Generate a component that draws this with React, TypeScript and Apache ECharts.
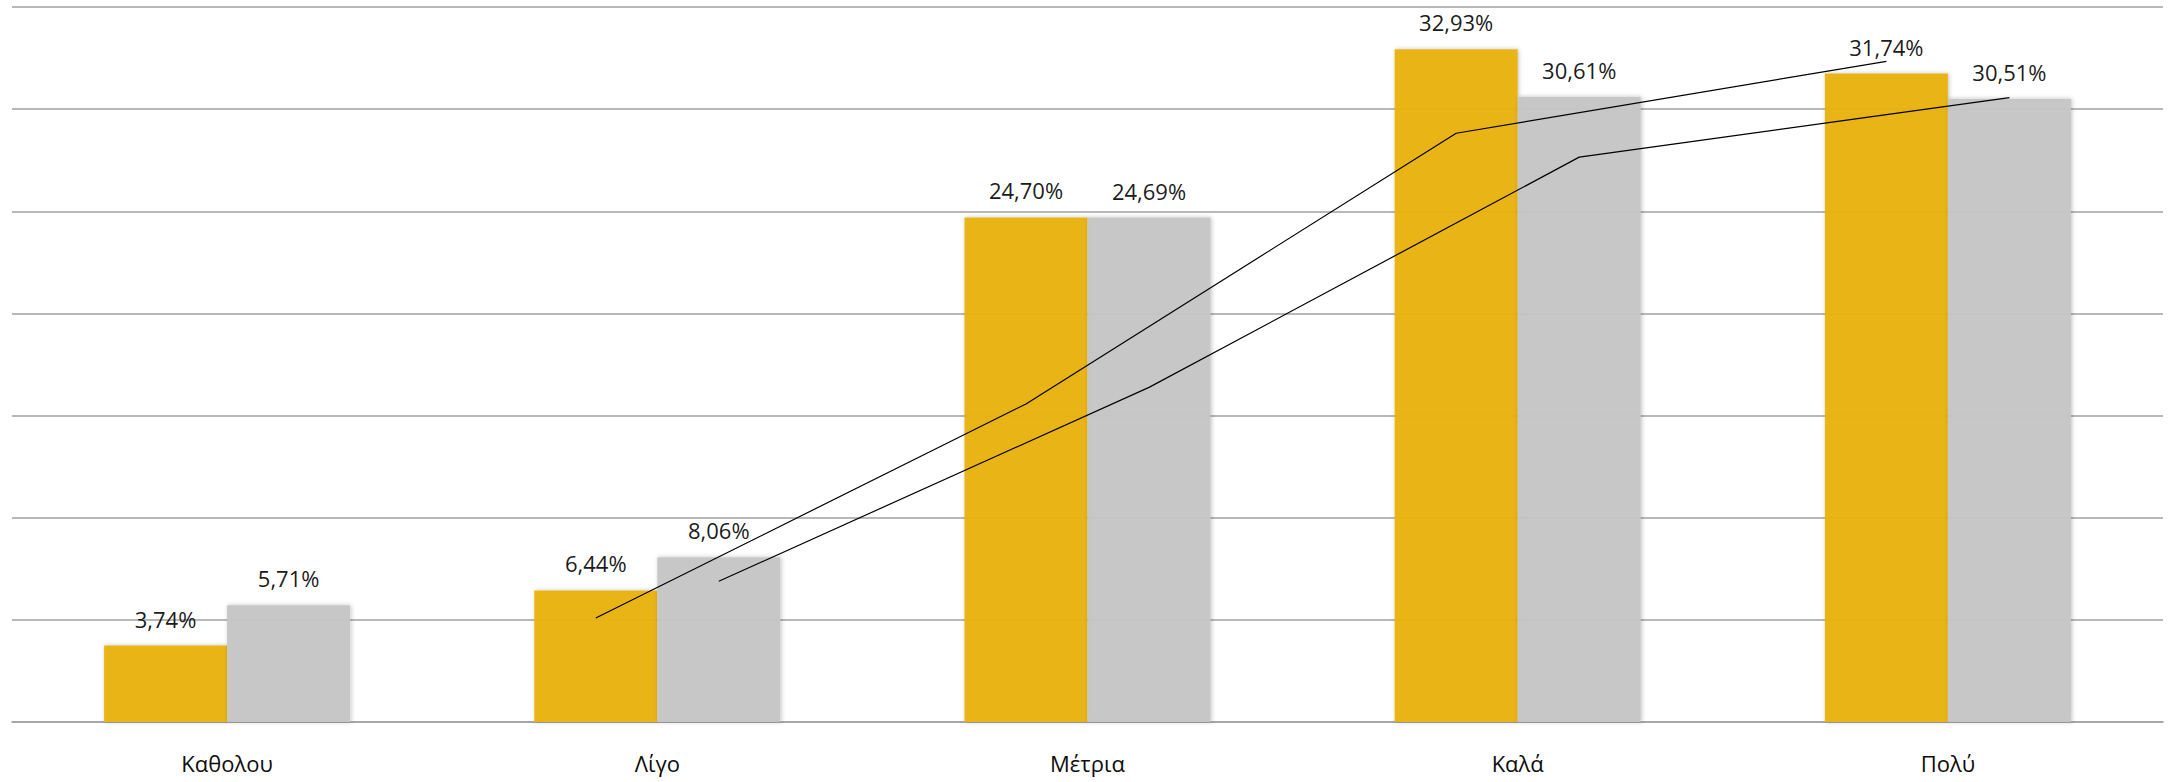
import React, { useEffect, useRef } from "react";
import * as echarts from "echarts";

const categories = ["Καθολου", "Λίγο", "Μέτρια", "Καλά", "Πολύ"];
const seriesA = [3.74, 6.44, 24.7, 32.93, 31.74];
const seriesB = [5.71, 8.06, 24.69, 30.61, 30.51];
// trend lines (2-period moving averages), starting at the 2nd category
const trendA = [5.09, 15.57, 28.82, 32.34];
const trendB = [6.89, 16.38, 27.65, 30.56];
const trendStartIndex = 1;

const BAR_FRAC = 0.286;
const FONT = "'Open Sans', 'Noto Sans', sans-serif";

const fmt = (v: number) => v.toFixed(2).replace(".", ",") + "%";

export default function App() {
  const ref = useRef<HTMLDivElement>(null);
  useEffect(() => {
    if (!ref.current) return;
    const chart = echarts.init(ref.current, undefined, { renderer: "svg" });
    const off = BAR_FRAC / 2;
    const lineA = trendA.map((v, i) => [trendStartIndex + i + 0.5 - off, v]);
    const lineB = trendB.map((v, i) => [trendStartIndex + i + 0.5 + off, v]);
    const label = {
      show: true,
      position: "top",
      distance: 16,
      fontFamily: FONT,
      fontSize: 22,
      color: "#0d0d0d",
      formatter: (p: any) => fmt(p.value),
    };
    chart.setOption({
      animation: false,
      grid: { left: 12, right: 12, top: 7, bottom: 60, containLabel: false },
      xAxis: [
        {
          type: "category",
          data: categories,
          axisTick: { show: false },
          axisLine: { show: true, lineStyle: { color: "#a0a0a0", width: 1.5 } },
          axisLabel: { fontFamily: FONT, fontSize: 22, color: "#0d0d0d", margin: 30 },
        },
        { type: "value", min: 0, max: 5, show: false },
      ],
      yAxis: {
        type: "value",
        min: 0,
        max: 35,
        interval: 5,
        axisLabel: { show: false },
        axisLine: { show: false },
        axisTick: { show: false },
        splitLine: { lineStyle: { color: "#a0a0a0", width: 1.5 } },
      },
      series: [
        {
          name: "Σειρά 1",
          type: "bar",
          data: seriesA,
          barWidth: (BAR_FRAC * 100).toFixed(1) + "%",
          barGap: "0%",
          itemStyle: {
            color: "rgb(233,179,16)",
            opacity: 0.96,
            shadowBlur: 4,
            shadowColor: "rgba(0,0,0,0.25)",
            shadowOffsetX: 1,
          },
          label,
        },
        {
          name: "Σειρά 2",
          type: "bar",
          data: seriesB,
          barWidth: (BAR_FRAC * 100).toFixed(1) + "%",
          barGap: "0%",
          itemStyle: {
            color: "rgb(198,198,198)",
            opacity: 0.96,
            shadowBlur: 4,
            shadowColor: "rgba(0,0,0,0.25)",
            shadowOffsetX: 1,
          },
          label,
        },
        {
          name: "Τάση 1",
          type: "line",
          xAxisIndex: 1,
          data: lineA,
          symbol: "none",
          lineStyle: { color: "#000", width: 1.2 },
          z: 5,
        },
        {
          name: "Τάση 2",
          type: "line",
          xAxisIndex: 1,
          data: lineB,
          symbol: "none",
          lineStyle: { color: "#000", width: 1.2 },
          z: 5,
        },
      ],
    });
    return () => chart.dispose();
  }, []);
  return (
    <div
      ref={ref}
      style={{ position: "fixed", left: 0, top: 0, width: 2175, height: 782, background: "#fff" }}
    />
  );
}
